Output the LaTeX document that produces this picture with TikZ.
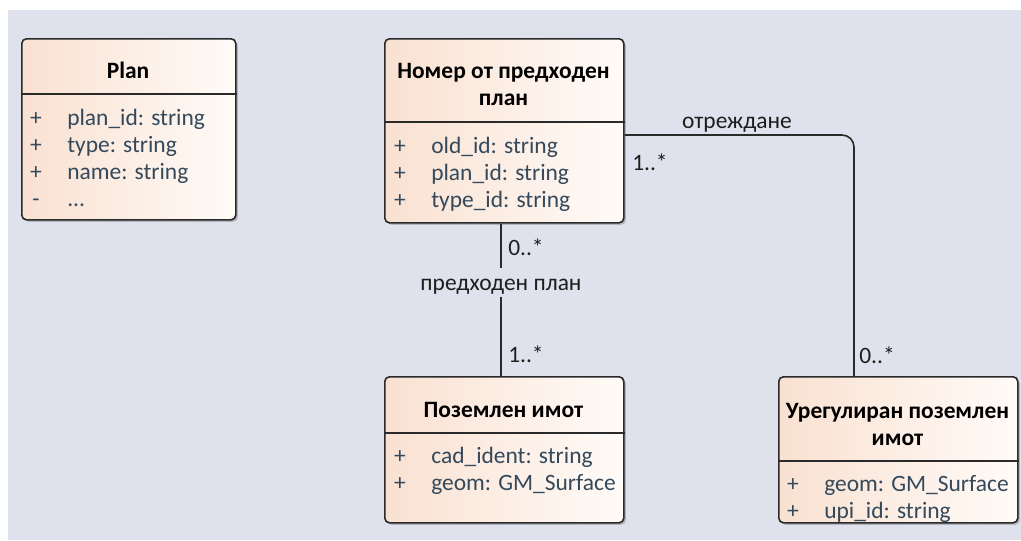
\documentclass[tikz,border=0pt]{standalone}
\usepackage{fontspec}
\setmainfont{Carlito}
\usetikzlibrary{shadows}
\definecolor{canvas}{HTML}{DFE2EC}
\definecolor{peachL}{HTML}{F9E1D1}
\definecolor{peachR}{HTML}{FFFBF8}
\definecolor{boxline}{HTML}{2A2A2A}
\definecolor{attrtext}{HTML}{34495B}
\definecolor{labeltext}{HTML}{1E1E1E}
\begin{document}
\begin{tikzpicture}[x=0.75pt,y=-0.75pt,
  font=\fontsize{17.6}{21}\selectfont,
  classbox/.style={draw=boxline, line width=1.2pt, rounded corners=3.5pt,
    left color=peachL, right color=peachR, inner sep=0pt, anchor=north west,
    drop shadow={shadow xshift=1.5pt, shadow yshift=-1.5pt, opacity=0.2, fill=black}},
  divider/.style={draw=boxline, line width=1.2pt},
  classname/.style={font=\fontsize{17.6}{21}\selectfont\bfseries, text=black, inner sep=0pt, anchor=base},
  attr/.style={text=attrtext, inner sep=0pt, anchor=base west},
  vis/.style={text=attrtext, inner sep=0pt, anchor=base},
  assoc/.style={draw=boxline, line width=1.2pt},
  role/.style={text=labeltext, inner sep=0pt, anchor=base west},
]
% canvas
\fill[white] (0,0) rectangle (1021,540);
\fill[canvas] (8,10) rectangle (1021,540);
\useasboundingbox (0,0) rectangle (1021,540);

% ---- Plan ----
\node[classbox, minimum width=160.5pt, minimum height=135.75pt] (plan) at (21,38) {};
\draw[divider] (plan.west |- 0,94) -- (plan.east |- 0,94);
\node[classname] (plan-n) at (128,78) {Plan};
\node[vis] (plan-v1) at (36,125) {+};
\node[attr] (plan-a1) at (67,125) {plan\_id: string};
\node[vis] (plan-v2) at (36,152) {+};
\node[attr] (plan-a2) at (67,152) {type: string};
\node[vis] (plan-v3) at (36,179) {+};
\node[attr] (plan-a3) at (67,179) {name: string};
\node[vis] (plan-v4) at (36,206) {-};
\node[attr] (plan-a4) at (67,206) {...};

% ---- Номер от предходен план ----
\node[classbox, minimum width=179.25pt, minimum height=138pt] (prev) at (384,38) {};
\draw[divider] (prev.west |- 0,122) -- (prev.east |- 0,122);
\node[classname] (prev-n1) at (503.5,78) {Номер от предходен};
\node[classname] (prev-n2) at (503.5,105) {план};
\node[vis] (prev-v1) at (400,153) {+};
\node[attr] (prev-a1) at (431,153) {old\_id: string};
\node[vis] (prev-v2) at (400,180) {+};
\node[attr] (prev-a2) at (431,180) {plan\_id: string};
\node[vis] (prev-v3) at (400,207) {+};
\node[attr] (prev-a3) at (431,207) {type\_id: string};

% ---- Поземлен имот ----
\node[classbox, minimum width=179.25pt, minimum height=109.5pt] (parcel) at (384,376) {};
\draw[divider] (parcel.west |- 0,433) -- (parcel.east |- 0,433);
\node[classname] (parcel-n) at (503.5,417) {Поземлен имот};
\node[vis] (parcel-v1) at (400,463) {+};
\node[attr] (parcel-a1) at (431,463) {cad\_ident: string};
\node[vis] (parcel-v2) at (400,490) {+};
\node[attr] (parcel-a2) at (431,490) {geom: GM\_Surface};

% ---- Урегулиран поземлен имот ----
\node[classbox, minimum width=179.25pt, minimum height=109.5pt] (upi) at (778,376) {};
\draw[divider] (upi.west |- 0,461) -- (upi.east |- 0,461);
\node[classname] (upi-n1) at (897.5,418) {Урегулиран поземлен};
\node[classname] (upi-n2) at (897.5,445) {имот};
\begin{scope}
  \clip (upi.north west) rectangle ([yshift=0.6pt]upi.south east);
  \node[vis] (upi-v1) at (793,491) {+};
  \node[attr] (upi-a1) at (824,491) {geom: GM\_Surface};
  \node[vis] (upi-v2) at (793,518) {+};
  \node[attr] (upi-a2) at (824,518) {upi\_id: string};
\end{scope}

% ---- associations ----
\node[text=labeltext, inner xsep=0pt, inner ysep=0pt, text height=16.5pt, text depth=5.25pt, anchor=base]
  (lblprev) at (501,290) {предходен план};
\draw[assoc] (prev.south -| lblprev.north) -- (lblprev.north);
\draw[assoc] (lblprev.south) -- (parcel.north -| lblprev.south);
\node[role] (m-prev) at (508,255) {0..*};
\node[role] (m-parcel) at (508,362) {1..*};

\coordinate (bend) at (854,135);
\draw[assoc, rounded corners=9pt] (prev.east |- bend) -| (upi.north -| bend);
\node[text=labeltext, inner sep=0pt, anchor=base] (lblallot) at (737,128) {отреждане};
\node[role] (m-allot1) at (632,170) {1..*};
\node[role] (m-allot2) at (859,363) {0..*};
\end{tikzpicture}
\end{document}
